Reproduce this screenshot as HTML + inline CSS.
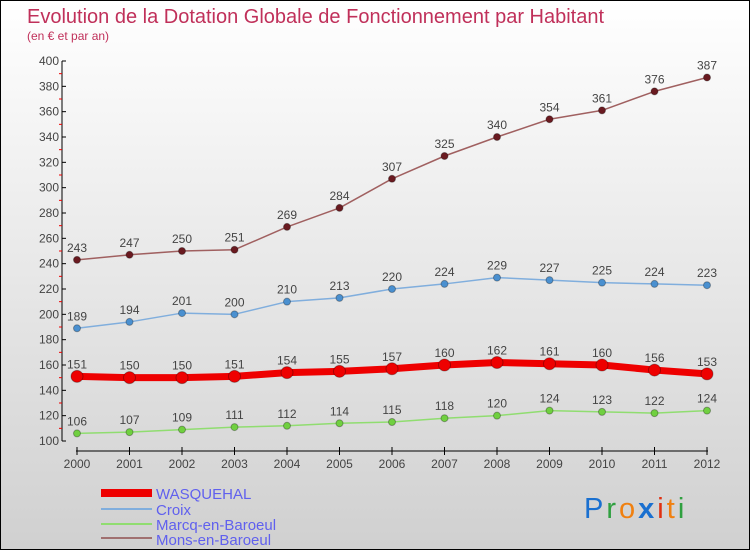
<!DOCTYPE html>
<html><head><meta charset="utf-8"><style>
body{margin:0}
#c{width:748px;height:548px;border:1px solid #000;background:linear-gradient(#ffffff,#d0d0d0);position:relative;overflow:hidden;font-family:"Liberation Sans",sans-serif}
</style></head><body>
<div id="c">
<svg id="s" width="748" height="548" style="position:absolute;left:0;top:0">
<text x="26" y="22" font-size="20" fill="#c0305a">Evolution de la Dotation Globale de Fonctionnement par Habitant</text>
<text x="26" y="39" font-size="12" fill="#c0305a">(en € et par an)</text>
<g id="axes"></g><g id="series"></g>
<g>
<rect x="100" y="488" width="51" height="8" fill="#ee0000"/>
<text x="155" y="498" font-size="15" fill="#6060ee">WASQUEHAL</text>
<rect x="100" y="507" width="51" height="2" fill="#80aedd"/>
<text x="155" y="514" font-size="15" fill="#6060ee">Croix</text>
<rect x="100" y="522" width="51" height="2" fill="#90dd70"/>
<text x="155" y="529" font-size="15" fill="#6060ee">Marcq-en-Baroeul</text>
<rect x="100" y="536" width="51" height="2" fill="#a07070"/>
<text x="155" y="544" font-size="15" fill="#6060ee">Mons-en-Baroeul</text>
</g>
<text x="583" y="517" font-size="29" letter-spacing="3" font-family="Liberation Sans,sans-serif"><tspan fill="#1a70d0">P</tspan><tspan fill="#30a040">r</tspan><tspan fill="#f08010">o</tspan><tspan fill="#1a70d0" font-weight="bold">x</tspan><tspan fill="#e03010">i</tspan><tspan fill="#f08010">t</tspan><tspan fill="#30a040">i</tspan></text>
</svg>
</div>
<script>
const years=[2000,2001,2002,2003,2004,2005,2006,2007,2008,2009,2010,2011,2012];
const wasquehal=[151,150,150,151,154,155,157,160,162,161,160,156,153];
const croix=[189,194,201,200,210,213,220,224,229,227,225,224,223];
const marcq=[106,107,109,111,112,114,115,118,120,124,123,122,124];
const mons=[243,247,250,251,269,284,307,325,340,354,361,376,387];
const yTicks=[100,120,140,160,180,200,220,240,260,280,300,320,340,360,380,400];
const NS="http://www.w3.org/2000/svg";
const X=i=>76+i*52.5, Y=v=>440-(v-100)*380/300;
function mk(t,a,p){const e=document.createElementNS(NS,t);for(const k in a)e.setAttribute(k,a[k]);p.appendChild(e);return e;}
const ax=document.getElementById('axes');
let yl=mk('line',{x1:61,y1:60,x2:61,y2:440,stroke:'#000'},ax);


yTicks.forEach((v,k)=>{mk('line',{x1:61,y1:Y(v),x2:65,y2:Y(v),stroke:'#000'},ax);
 if(k<yTicks.length-1)mk('line',{x1:58,y1:Y(v+10),x2:61,y2:Y(v+10),stroke:'#e00'},ax);
 const t=mk('text',{x:58,y:Y(v)+4,'text-anchor':'end','font-size':12,fill:'#444'},ax);t.textContent=v;
 
 });
let xl=mk('line',{x1:75,y1:450,x2:707,y2:450,stroke:'#000'},ax);


years.forEach((y,i)=>{mk('line',{x1:X(i),y1:446,x2:X(i),y2:454,stroke:'#000'},ax);
 const t=mk('text',{x:X(i),y:467,'text-anchor':'middle','font-size':12,fill:'#444'},ax);t.textContent=y;
 
 });
const sg=document.getElementById('series');
function series(d,name,col,dot,w,r){
 const g=mk('g',{},sg);
 
 
 mk('polyline',{points:d.map((v,i)=>X(i)+','+Y(v)).join(' '),fill:'none',stroke:col,'stroke-width':w,'stroke-linejoin':'round'},g);
 d.forEach((v,i)=>{const c=mk('circle',{cx:X(i),cy:Y(v),r:r,fill:dot,stroke:'rgba(0,0,0,0.3)','stroke-width':1},g);
  
  
  const t=mk('text',{x:X(i),y:Y(v)-8,'text-anchor':'middle','font-size':12,fill:'#444'},g);t.textContent=v;
  
  });
}
series(mons,'mons','#a06060','#6a1a20',1.5,3.5);
series(croix,'croix','#80aedd','#4a90d0',1.5,3.5);
series(marcq,'marcq','#90dd70','#70d040',1.5,3.5);
series(wasquehal,'wasquehal','#ee0000','#ee0000',7,6);
</script>
</body></html>
